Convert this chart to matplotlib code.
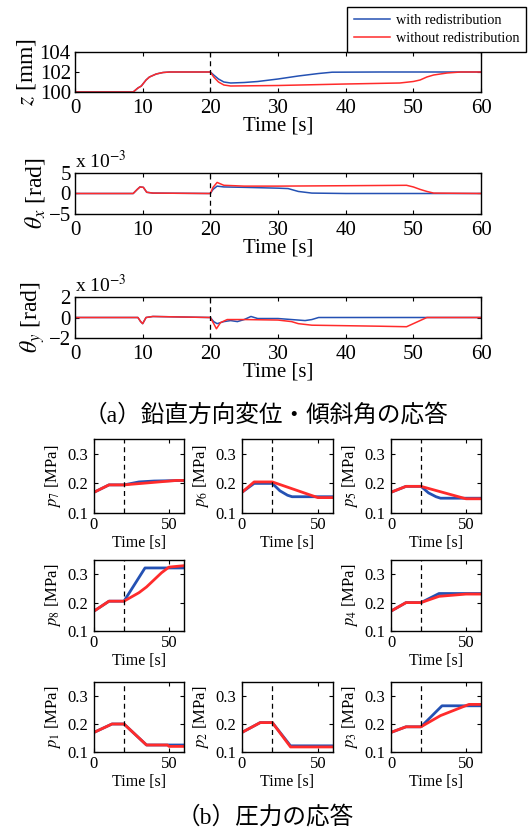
import matplotlib
matplotlib.use("Agg")
from matplotlib import pyplot as plt
from matplotlib.lines import Line2D

plt.rcParams['font.family'] = ['Liberation Serif', 'Noto Sans CJK JP']
plt.rcParams['mathtext.fontset'] = 'stix'
plt.rcParams['xtick.direction'] = 'in'
plt.rcParams['ytick.direction'] = 'in'
plt.rcParams['xtick.top'] = True
plt.rcParams['ytick.right'] = True
plt.rcParams['axes.linewidth'] = 1.0

# --- data ---
# vertical displacement z [mm]
z_with_t = [0, 8.6, 9.3, 9.8, 10.5, 11, 12, 13, 14, 20, 20.5, 21.2, 22, 23, 25, 27, 30, 33, 36, 38, 45, 60]
z_with = [100, 100, 100.4, 100.6, 101.2, 101.5, 101.8, 101.95, 102, 102, 101.7, 101.3, 101.0, 100.9,
          100.95, 101.05, 101.3, 101.6, 101.85, 101.98, 102, 102]
z_without_t = [0, 8.6, 9.3, 9.8, 10.5, 11, 12, 13, 14, 20, 20.5, 21.2, 22, 23, 30, 40, 48, 50, 51, 52, 53,
               55, 57, 60]
z_without = [100, 100, 100.4, 100.6, 101.2, 101.5, 101.8, 101.95, 102, 102, 101.5, 101.0, 100.7, 100.6,
             100.65, 100.8, 100.9, 101.05, 101.2, 101.5, 101.7, 101.9, 102, 102]

# tilt angle theta_x [x 1e-3 rad]
thx_with_t = [0, 8.6, 9.2, 9.6, 10.1, 10.6, 11.5, 20, 20.4, 21, 22, 25, 30, 31.5, 33, 35, 40, 50, 60]
thx_with = [0, 0, 1.0, 1.6, 1.5, 0.3, 0.1, 0, 1.0, 1.8, 1.6, 1.5, 1.3, 1.2, 0.5, 0.1, 0, 0, 0]
thx_without_t = [0, 8.6, 9.2, 9.6, 10.1, 10.6, 11.5, 20, 20.4, 21, 22, 25, 30, 40, 49, 50, 51, 52, 53, 60]
thx_without = [0, 0, 1.0, 1.6, 1.5, 0.3, 0.1, 0, 1.5, 2.7, 2.0, 1.8, 1.8, 1.9, 2.0, 1.6, 1.0, 0.5, 0.1, 0]

# tilt angle theta_y [x 1e-3 rad]
thy_with_t = [0, 9.3, 9.7, 10.0, 10.5, 11.5, 20, 20.5, 21, 22, 23, 24, 25, 26, 27, 30, 32, 34, 35, 36, 40, 60]
thy_with = [0, 0, -0.4, -0.6, 0.0, 0.1, 0, -0.4, -0.6, -0.4, -0.3, -0.4, -0.2, 0.1, -0.1, -0.1, -0.2,
            -0.3, -0.2, 0, 0, 0]
thy_without_t = [0, 9.3, 9.7, 10.0, 10.5, 11.5, 20, 20.5, 20.9, 21.5, 22.5, 25, 30, 32, 33, 35, 40, 45, 49,
                 50, 51, 52, 60]
thy_without = [0, 0, -0.4, -0.6, 0, 0.1, 0, -0.6, -1.1, -0.5, -0.2, -0.2, -0.25, -0.4, -0.6, -0.75, -0.8,
               -0.85, -0.9, -0.6, -0.3, 0, 0]

# chamber pressures [MPa]: (times, values) for with / without redistribution
p7_with = ([0, 10, 20, 25, 30, 40, 60], [0.17, 0.195, 0.195, 0.2, 0.205, 0.208, 0.21])
p7_without = ([0, 10, 20, 55, 60], [0.17, 0.195, 0.195, 0.21, 0.21])
p6_with = ([0, 8, 20, 25, 30, 33, 60], [0.17, 0.2, 0.2, 0.175, 0.16, 0.155, 0.155])
p6_without = ([0, 8, 20, 50, 60], [0.17, 0.205, 0.205, 0.152, 0.152])
p5_with = ([0, 10, 20, 25, 30, 33, 60], [0.17, 0.19, 0.19, 0.168, 0.155, 0.15, 0.15])
p5_without = ([0, 10, 20, 50, 60], [0.17, 0.19, 0.19, 0.148, 0.148])
p8_with = ([0, 10, 20, 34, 60], [0.17, 0.205, 0.205, 0.322, 0.322])
p8_without = ([0, 10, 20, 25, 30, 35, 40, 45, 50, 60], [0.17, 0.205, 0.205, 0.22, 0.235, 0.255, 0.28, 0.305,
                                                          0.325, 0.33])
p4_with = ([0, 10, 20, 32, 60], [0.17, 0.2, 0.2, 0.232, 0.232])
p4_without = ([0, 10, 20, 32, 50, 60], [0.17, 0.2, 0.2, 0.222, 0.23, 0.23])
p1_with = ([0, 12, 20, 35, 60], [0.17, 0.2, 0.2, 0.125, 0.125])
p1_without = ([0, 12, 20, 35, 49, 50, 60], [0.17, 0.2, 0.2, 0.125, 0.125, 0.12, 0.12])
p2_with = ([0, 12, 20, 32, 60], [0.17, 0.205, 0.205, 0.122, 0.122])
p2_without = ([0, 12, 20, 32, 60], [0.17, 0.205, 0.205, 0.118, 0.118])
p3_with = ([0, 10, 20, 34, 60], [0.17, 0.19, 0.19, 0.265, 0.265])
p3_without = ([0, 10, 20, 33, 52, 60], [0.17, 0.19, 0.19, 0.23, 0.27, 0.27])

pressure_names = ['7', '6', '5', '8', None, '4', '1', '2', '3']
pressure_data = [(p7_with, p7_without), (p6_with, p6_without), (p5_with, p5_without),
                 (p8_with, p8_without), None, (p4_with, p4_without),
                 (p1_with, p1_without), (p2_with, p2_without), (p3_with, p3_without)]

BLUE = '#2451b3'
RED = '#ff2b2b'
W, H = 531, 830


def box(x0, x1, y0, y1):
    # pixel box -> figure fraction rect
    return [x0 / W, 1 - y1 / H, (x1 - x0) / W, (y1 - y0) / H]


fig = plt.figure(figsize=(W / 100, H / 100), dpi=100)

top_panels = [
    (z_with_t, z_with, z_without_t, z_without, (100, 104), [100, 102, 104], r'$z$ [mm]', (52, 92), False),
    (thx_with_t, thx_with, thx_without_t, thx_without, (-5, 5), [-5, 0, 5], r'$\theta_x$ [rad]', (173, 214), True),
    (thy_with_t, thy_with, thy_without_t, thy_without, (-2, 2), [-2, 0, 2], r'$\theta_y$ [rad]', (297, 338), True),
]
for tw, yw, tr, yr, ylim, yticks, ylab, (y0, y1), scaled in top_panels:
    ax = fig.add_axes(box(75, 481, y0, y1))
    ax.plot(tw, yw, color=BLUE, lw=1.1)
    ax.plot(tr, yr, color=RED, lw=1.1)
    ax.axvline(20, color='black', lw=0.9, ls=(0, (4, 3)))
    ax.set_xlim(0, 60)
    ax.set_ylim(*ylim)
    ax.set_xticks(range(0, 61, 10))
    ax.set_yticks(yticks)
    ax.tick_params(labelsize=15, length=3)
    ax.tick_params(axis='x', pad=5)
    ax.tick_params(axis='y', pad=3)
    ax.set_xlabel('Time [s]', fontsize=15, labelpad=-1)
    ax.set_ylabel(ylab, fontsize=17, labelpad=1)
    if scaled:
        ax.text(0.0, 1.02, r'x 10$^{-3}$', transform=ax.transAxes, fontsize=14, va='bottom', ha='left')

fig.legend([Line2D([], [], color=BLUE, lw=1.1), Line2D([], [], color=RED, lw=1.1)],
           ['with redistribution', 'without redistribution'],
           loc='upper left', bbox_to_anchor=(347 / W, 1 - 7 / H), fontsize=10.3,
           frameon=True, fancybox=False, edgecolor='black', framealpha=1,
           borderaxespad=0, handlelength=2.5, handletextpad=0.4, borderpad=0.5, labelspacing=0.35)

fig.text(0.5, 1 - 415 / H, '（a）鉛直方向変位・傾斜角の応答', ha='center', va='center', fontsize=17)

cols = [(94, 184), (242, 333), (391, 481)]
rows = [(439, 513), (560, 631), (682, 752)]
for i, (name, data) in enumerate(zip(pressure_names, pressure_data)):
    if data is None:
        continue
    r, c = divmod(i, 3)
    ax = fig.add_axes(box(cols[c][0], cols[c][1], rows[r][0], rows[r][1]))
    (tw, yw), (tr, yr) = data
    ax.plot(tw, yw, color=BLUE, lw=2)
    ax.plot(tr, yr, color=RED, lw=2)
    ax.axvline(20, color='black', lw=0.9, ls=(0, (4, 3)))
    ax.set_xlim(0, 60)
    ax.set_ylim(0.1, 0.35)
    ax.set_xticks([0, 50])
    ax.set_yticks([0.1, 0.2, 0.3])
    ax.set_yticklabels(['0.1', '0.2', '0.3'])
    ax.tick_params(labelsize=12, length=3)
    ax.tick_params(axis='y', pad=4)
    ax.tick_params(axis='x', pad=3)
    ax.set_xlabel('Time [s]', fontsize=11.5, labelpad=1)
    ax.set_ylabel(r'$p_{%s}$ [MPa]' % name, fontsize=12, labelpad=3)

fig.text(0.5, 1 - 817 / H, '（b）圧力の応答', ha='center', va='center', fontsize=17)

fig.savefig('out.png', dpi=100)
